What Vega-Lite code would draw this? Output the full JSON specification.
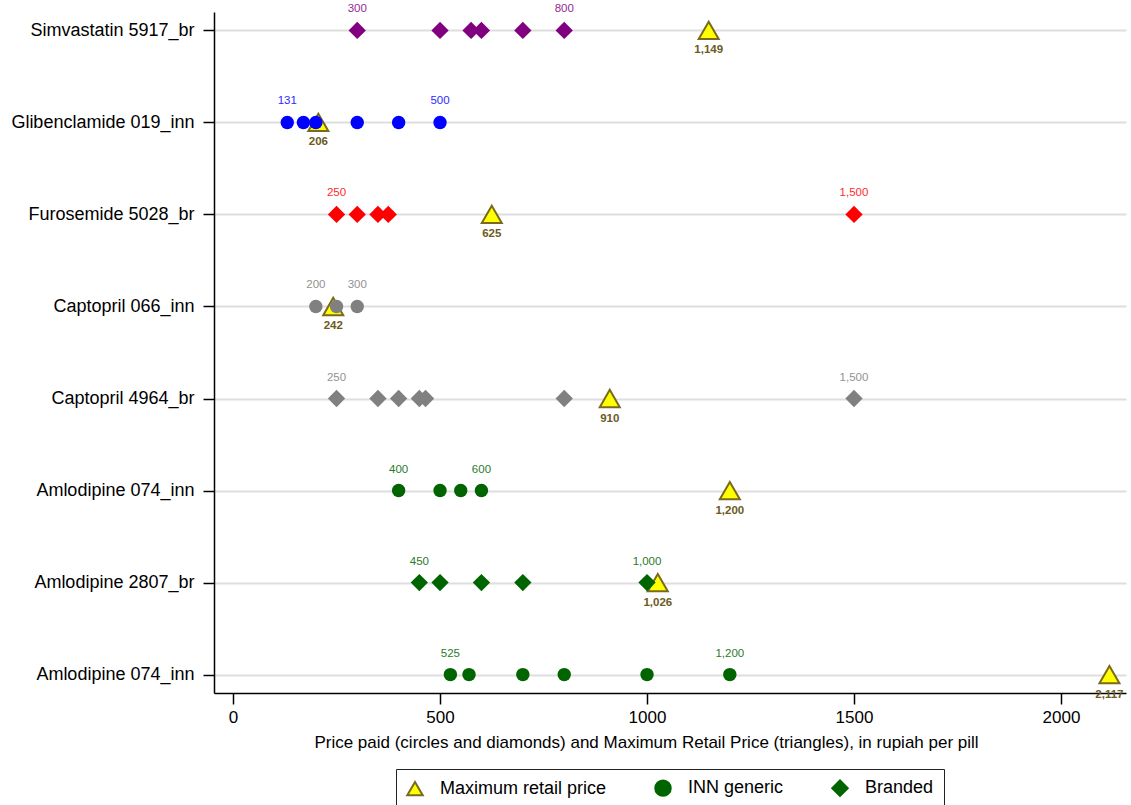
{
  "$schema": "https://vega.github.io/schema/vega-lite/v6.json",
  "width": 912,
  "height": 681,
  "autosize": {"type": "none"},
  "padding": {"left": 214, "top": 12, "right": 5, "bottom": 112},
  "config": {"view": {"stroke": null}, "font": "Liberation Sans"},
  "data": {"values": [
    {"drug": "Simvastatin 5917_br", "type": "Branded", "price": 300},
    {"drug": "Simvastatin 5917_br", "type": "Branded", "price": 500},
    {"drug": "Simvastatin 5917_br", "type": "Branded", "price": 575},
    {"drug": "Simvastatin 5917_br", "type": "Branded", "price": 600},
    {"drug": "Simvastatin 5917_br", "type": "Branded", "price": 700},
    {"drug": "Simvastatin 5917_br", "type": "Branded", "price": 800},
    {"drug": "Simvastatin 5917_br", "type": "Maximum retail price", "price": 1149},
    {"drug": "Glibenclamide 019_inn", "type": "INN generic", "price": 131},
    {"drug": "Glibenclamide 019_inn", "type": "INN generic", "price": 170},
    {"drug": "Glibenclamide 019_inn", "type": "INN generic", "price": 200},
    {"drug": "Glibenclamide 019_inn", "type": "INN generic", "price": 300},
    {"drug": "Glibenclamide 019_inn", "type": "INN generic", "price": 400},
    {"drug": "Glibenclamide 019_inn", "type": "INN generic", "price": 500},
    {"drug": "Glibenclamide 019_inn", "type": "Maximum retail price", "price": 206},
    {"drug": "Furosemide 5028_br", "type": "Branded", "price": 250},
    {"drug": "Furosemide 5028_br", "type": "Branded", "price": 300},
    {"drug": "Furosemide 5028_br", "type": "Branded", "price": 350},
    {"drug": "Furosemide 5028_br", "type": "Branded", "price": 375},
    {"drug": "Furosemide 5028_br", "type": "Branded", "price": 1500},
    {"drug": "Furosemide 5028_br", "type": "Maximum retail price", "price": 625},
    {"drug": "Captopril 066_inn", "type": "INN generic", "price": 200},
    {"drug": "Captopril 066_inn", "type": "INN generic", "price": 250},
    {"drug": "Captopril 066_inn", "type": "INN generic", "price": 300},
    {"drug": "Captopril 066_inn", "type": "Maximum retail price", "price": 242},
    {"drug": "Captopril 4964_br", "type": "Branded", "price": 250},
    {"drug": "Captopril 4964_br", "type": "Branded", "price": 350},
    {"drug": "Captopril 4964_br", "type": "Branded", "price": 400},
    {"drug": "Captopril 4964_br", "type": "Branded", "price": 450},
    {"drug": "Captopril 4964_br", "type": "Branded", "price": 465},
    {"drug": "Captopril 4964_br", "type": "Branded", "price": 800},
    {"drug": "Captopril 4964_br", "type": "Branded", "price": 1500},
    {"drug": "Captopril 4964_br", "type": "Maximum retail price", "price": 910},
    {"drug": "Amlodipine 074_inn", "type": "INN generic", "price": 400},
    {"drug": "Amlodipine 074_inn", "type": "INN generic", "price": 500},
    {"drug": "Amlodipine 074_inn", "type": "INN generic", "price": 550},
    {"drug": "Amlodipine 074_inn", "type": "INN generic", "price": 600},
    {"drug": "Amlodipine 074_inn", "type": "Maximum retail price", "price": 1200},
    {"drug": "Amlodipine 2807_br", "type": "Branded", "price": 450},
    {"drug": "Amlodipine 2807_br", "type": "Branded", "price": 500},
    {"drug": "Amlodipine 2807_br", "type": "Branded", "price": 600},
    {"drug": "Amlodipine 2807_br", "type": "Branded", "price": 700},
    {"drug": "Amlodipine 2807_br", "type": "Branded", "price": 1000},
    {"drug": "Amlodipine 2807_br", "type": "Maximum retail price", "price": 1026},
    {"drug": "Amlodipine 074_inn #2", "type": "INN generic", "price": 525},
    {"drug": "Amlodipine 074_inn #2", "type": "INN generic", "price": 570},
    {"drug": "Amlodipine 074_inn #2", "type": "INN generic", "price": 700},
    {"drug": "Amlodipine 074_inn #2", "type": "INN generic", "price": 800},
    {"drug": "Amlodipine 074_inn #2", "type": "INN generic", "price": 1000},
    {"drug": "Amlodipine 074_inn #2", "type": "INN generic", "price": 1200},
    {"drug": "Amlodipine 074_inn #2", "type": "Maximum retail price", "price": 2117}
  ]},
  "encoding": {
    "y": {
      "field": "drug", "type": "nominal",
      "sort": ["Simvastatin 5917_br", "Glibenclamide 019_inn", "Furosemide 5028_br", "Captopril 066_inn", "Captopril 4964_br", "Amlodipine 074_inn", "Amlodipine 2807_br", "Amlodipine 074_inn #2"],
      "scale": {"type": "point", "padding": 0.2},
      "axis": {
        "title": null, "labelFontSize": 18, "labelColor": "black", "labelFont": "Liberation Sans", "labelLimit": 400,
        "tickSize": 11, "tickColor": "black", "tickWidth": 1.5, "domainColor": "black", "domainWidth": 1.5,
        "labelPadding": 9, "grid": true, "gridColor": "#dedede", "gridWidth": 2,
        "labelExpr": "replace(datum.value, ' #2', '')"
      }
    },
    "x": {
      "field": "price", "type": "quantitative",
      "scale": {"domain": [-46, 2157], "nice": false, "zero": false},
      "axis": {
        "title": "Price paid (circles and diamonds) and Maximum Retail Price (triangles), in rupiah per pill",
        "titleFontSize": 17, "titleFontWeight": "normal", "titleColor": "black", "titleFont": "Liberation Sans",
        "titleX": 432, "titleY": 54, "titleAlign": "center", "titleBaseline": "alphabetic",
        "labelFontSize": 17, "labelColor": "black", "labelPadding": 5, "format": "d",
        "values": [0, 500, 1000, 1500, 2000],
        "tickSize": 11, "tickColor": "black", "tickWidth": 1.5, "domainColor": "black", "domainWidth": 1.5,
        "grid": false
      }
    }
  },
  "layer": [
    {
      "transform": [{"filter": "datum.type === 'Maximum retail price'"}],
      "mark": {"type": "point", "filled": true, "strokeWidth": 2, "size": 400, "opacity": 1},
      "encoding": {
        "shape": {
          "field": "type", "type": "nominal",
          "scale": {"domain": ["Maximum retail price", "INN generic", "Branded"], "range": ["triangle-up", "circle", "diamond"]},
          "legend": {
            "orient": "none", "legendX": 182, "legendY": 757, "direction": "horizontal", "title": null,
            "strokeColor": "#222", "padding": 10, "labelFontSize": 18, "labelColor": "black", "labelFont": "Liberation Sans", "labelLimit": 400,
            "symbolSize": 240, "columnPadding": 44, "labelOffset": 16, "symbolStrokeWidth": 2
          }
        },
        "fill": {
          "field": "type", "type": "nominal",
          "scale": {"domain": ["Maximum retail price", "INN generic", "Branded"], "range": ["#ffff00", "#006400", "#006400"]},
          "legend": {
            "orient": "none", "legendX": 182, "legendY": 757, "direction": "horizontal", "title": null,
            "strokeColor": "#222", "padding": 10, "labelFontSize": 18, "labelColor": "black", "labelFont": "Liberation Sans", "labelLimit": 400,
            "symbolSize": 240, "columnPadding": 44, "labelOffset": 16, "symbolStrokeWidth": 2
          }
        },
        "stroke": {
          "field": "type", "type": "nominal",
          "scale": {"domain": ["Maximum retail price", "INN generic", "Branded"], "range": ["#7a6a1e", "#006400", "#006400"]},
          "legend": {
            "orient": "none", "legendX": 182, "legendY": 757, "direction": "horizontal", "title": null,
            "strokeColor": "#222", "padding": 10, "labelFontSize": 18, "labelColor": "black", "labelFont": "Liberation Sans", "labelLimit": 400,
            "symbolSize": 240, "columnPadding": 44, "labelOffset": 16, "symbolStrokeWidth": 2
          }
        }
      }
    },
    {
      "transform": [{"filter": "datum.type === 'INN generic'"}],
      "mark": {"type": "point", "filled": true, "size": 180, "opacity": 1},
      "encoding": {
        "shape": {"field": "type", "type": "nominal"},
        "color": {
          "field": "drug", "type": "nominal", "legend": null,
          "scale": {
            "domain": ["Simvastatin 5917_br", "Glibenclamide 019_inn", "Furosemide 5028_br", "Captopril 066_inn", "Captopril 4964_br", "Amlodipine 074_inn", "Amlodipine 2807_br", "Amlodipine 074_inn #2"],
            "range": ["#800080", "#0000ff", "#ff0000", "#808080", "#808080", "#006400", "#006400", "#006400"]
          }
        }
      }
    },
    {
      "transform": [{"filter": "datum.type === 'Branded'"}],
      "mark": {"type": "point", "filled": true, "size": 300, "opacity": 1},
      "encoding": {
        "shape": {"field": "type", "type": "nominal"},
        "color": {"field": "drug", "type": "nominal", "legend": null}
      }
    },
    {
      "transform": [{"filter": "datum.type === 'Maximum retail price'"}],
      "mark": {"type": "text", "dy": 20, "fontSize": 11.5, "fontWeight": "bold", "color": "#6b5a22", "font": "Liberation Sans"},
      "encoding": {"text": {"field": "price", "type": "quantitative", "format": ","}}
    },
    {
      "transform": [
        {"filter": "datum.type !== 'Maximum retail price'"},
        {"joinaggregate": [{"op": "min", "field": "price", "as": "pmin"}, {"op": "max", "field": "price", "as": "pmax"}], "groupby": ["drug"]},
        {"filter": "datum.price === datum.pmin || datum.price === datum.pmax"}
      ],
      "mark": {"type": "text", "dy": -21, "fontSize": 11.5, "font": "Liberation Sans", "opacity": 0.85},
      "encoding": {
        "text": {"field": "price", "type": "quantitative", "format": ","},
        "color": {"field": "drug", "type": "nominal", "legend": null}
      }
    }
  ]
}
